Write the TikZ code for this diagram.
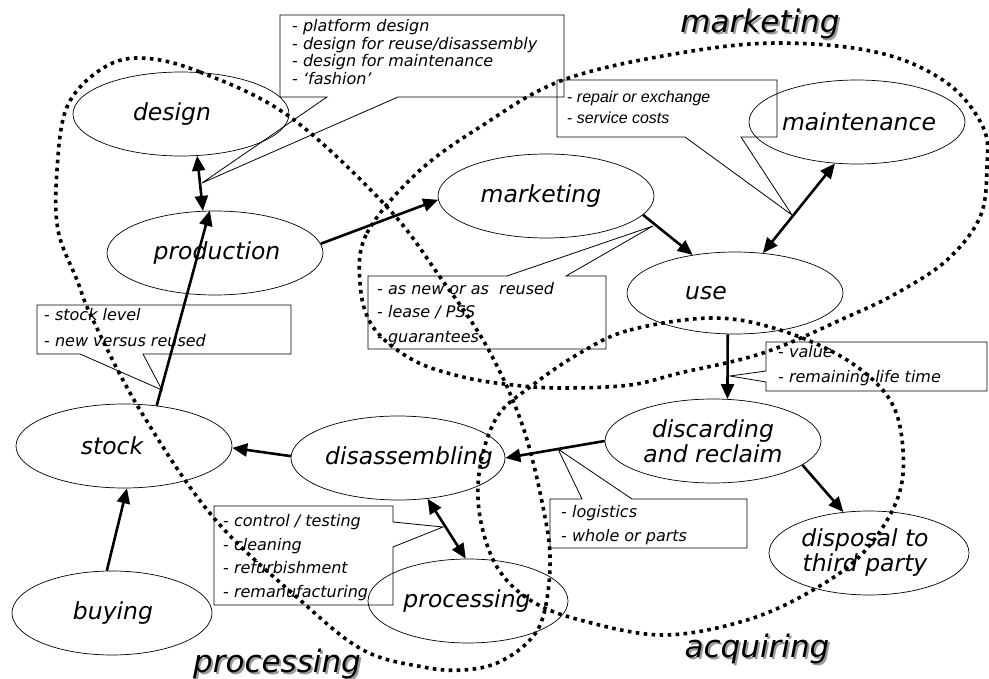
\documentclass[tikz,border=0pt]{standalone}
\usepackage{fontspec}
\setmainfont{DejaVu Sans}
\newfontfamily\arialf{Liberation Sans}
\usetikzlibrary{arrows.meta,shapes.geometric}
\newcommand{\dsh}[1]{\textup{-}\ \textit{#1}}
\begin{document}
\begin{tikzpicture}[x=1pt,y=-1pt,
  st/.style={draw, ellipse, line width=0.7pt, minimum width=216pt, minimum height=84pt, inner sep=0pt},
  lbl/.style={font=\fontsize{23.5}{25}\selectfont\itshape, align=center, inner sep=0pt},
  ct/.style={font=\fontsize{16}{18}\selectfont, inner sep=0pt, anchor=base west},
  ca/.style={font=\arialf\fontsize{16}{18}\selectfont, inner sep=0pt, anchor=base west},
  callout/.style={draw, line width=0.8pt, line join=miter},
  arr/.style={line width=2.6pt, -{Triangle[length=15pt,width=13pt]}},
  darr/.style={line width=2.6pt, {Triangle[length=15pt,width=13pt]}-{Triangle[length=15pt,width=13pt]}},
  dotloop/.style={line width=3.6pt, dash pattern=on 3.6pt off 4.4pt},
  big/.style={font=\fontsize{31}{33}\selectfont\itshape, anchor=base, inner sep=0pt}
]
\useasboundingbox (0,0) rectangle (989,679);

% process nodes
\node[st, label={[lbl,xshift=-9pt]center:design}] (design) at (181,114) {};
\node[st, label={[lbl,xshift=2pt]center:production}] (production) at (215,253) {};
\node[st, label={[lbl,xshift=-5pt]center:marketing}] (mkt) at (546,196) {};
\node[st, label={[lbl,xshift=2pt]center:maintenance}] (maint) at (857,122) {};
\node[st, minimum height=82pt, label={[lbl,xshift=-29pt]center:use}] (use) at (735,293) {};
\node[st, label={[lbl,xshift=0pt]center:{discarding\\and reclaim}}] (disc) at (713,441) {};
\node[st, minimum width=200pt, label={[lbl,xshift=-4pt]center:{disposal to\\third party}}] (disp) at (869,553) {};
\node[st, label={[lbl,xshift=-12pt]center:stock}] (stock) at (124,446) {};
\node[st, minimum width=214pt, label={[lbl,xshift=11pt]center:disassembling}] (disasm) at (398,458) {};
\node[st, minimum width=200pt, label={[lbl,xshift=1pt]center:buying}] (buying) at (112,613) {};
\node[st, minimum width=200pt, label={[lbl,xshift=-1pt]center:processing}] (proc) at (468,601) {};

% callout boxes
\coordinate (tipD) at (202,183);
\draw[callout] (280,15) -- (564,15) -- (564,97) -- (398,97) -- (tipD) -- (327,97) -- (280,97) -- cycle;
\node[ct] (d1) at (292,32) {\dsh{platform design}};
\node[ct] (d2) at (292,49.5) {\dsh{design for reuse/disassembly}};
\node[ct] (d3) at (292,67) {\dsh{design for maintenance}};
\node[ct] (d4) at (292,84.5) {\dsh{`fashion'}};

\coordinate (tipR) at (792,215);
\draw[callout] (557,80) -- (777,80) -- (777,137) -- (741,137) -- (tipR) -- (685,137) -- (557,137) -- cycle;
\node[ca] (r1) at (567,103) {\dsh{repair or exchange}};
\node[ca] (r2) at (567,124) {\dsh{service costs}};

\coordinate (tipM) at (653,226);
\draw[callout] (368,276) -- (507,276) -- (tipM) -- (566,276) -- (606,276) -- (606,349) -- (368,349) -- cycle;
\node[ct] (m1) at (377,295) {\dsh{as new or as\ \ reused}};
\node[ct] (m2) at (377,318) {\dsh{lease / PSS}};
\node[ct] (m3) at (377,342) {\dsh{guarantees}};

\coordinate (tipS) at (162,390);
\draw[callout] (37,305) -- (291,305) -- (291,354) -- (143,354) -- (tipS) -- (80,354) -- (37,354) -- cycle;
\node[ct] (s1) at (44,321) {\dsh{stock level}};
\node[ct] (s2) at (44,347) {\dsh{new versus reused}};

\coordinate (tipV) at (730,376);
\draw[callout] (766,342) -- (987,342) -- (987,391) -- (766,391) -- (766,382) -- (tipV) -- (766,371) -- cycle;
\node[ct] (v1) at (778,358) {\dsh{value}};
\node[ct] (v2) at (778,382) {\dsh{remaining life time}};

\coordinate (tipL) at (558,449);
\draw[callout] (550,499) -- (582,499) -- (tipL) -- (632,499) -- (747,499) -- (747,548) -- (550,548) -- cycle;
\node[ct] (l1) at (561,517) {\dsh{logistics}};
\node[ct] (l2) at (561,541) {\dsh{whole or parts}};

\coordinate (tipP) at (443,527);
\draw[callout] (214,506) -- (393,506) -- (393,522) -- (tipP) -- (393,547) -- (393,605) -- (214,605) -- cycle;
\node[ct] (p1) at (223,526) {\dsh{control / testing}};
\node[ct] (p2) at (223,550) {\dsh{cleaning}};
\node[ct] (p3) at (223,573) {\dsh{refurbishment}};
\node[ct] (p4) at (223,597) {\dsh{remanufacturing}};

% arrows
\draw[darr] (design.-69) -- (production.106);
\draw[arr] (production.5) -- (mkt.182);
\draw[arr] (mkt.-11) -- (use.138);
\draw[darr] (use.55) -- (maint.242);
\draw[arr] (use.260) -- (disc.71);
\draw[arr] (disc.180) -- (disasm.0);
\draw[arr] (disc.-15) -- (disp.122);
\draw[arr] (disasm.179) -- (stock.-1);
\draw[arr] (stock.51) -- (production.97);
\draw[arr] (buying.97) -- (stock.-86);
\draw[darr] (disasm.-54) -- (proc.93);

% dotted region loops
\draw[dotloop] plot[smooth cycle, tension=0.6] coordinates {
 (140,58) (200,72) (290,117) (387,207) (440,277) (487,347) (523,427) (545,517)
 (550,567) (543,617) (527,643) (497,663) (463,670) (423,667) (363,650) (300,600)
 (213,517) (140,410) (93,320) (77,280) (58,230) (57,170) (67,107) (100,70)};
\draw[dotloop] plot[smooth cycle, tension=0.6] coordinates {
 (360,283) (367,233) (417,173) (480,127) (563,80) (680,53) (780,43) (880,53)
 (947,83) (983,127) (987,167) (980,217) (947,260) (897,293) (847,317) (763,353)
 (680,373) (630,385) (563,388) (513,385) (463,377) (413,360) (373,327)};
\draw[dotloop] plot[smooth cycle, tension=0.6] coordinates {
 (580,353) (630,330) (713,318) (780,330) (847,360) (890,400) (903,450) (897,500)
 (863,553) (813,590) (747,620) (663,635) (580,620) (530,600) (497,567) (480,517)
 (480,467) (497,417) (530,387)};

% region titles
\node[big, text=black!40] (tmkts) at (762,35) {marketing};
\node[big] (tmkt) at (760,33) {marketing};
\node[big, text=black!40] (tprocs) at (279,674) {processing};
\node[big] (tproc) at (277,672) {processing};
\node[big, text=black!40] (tacqs) at (759,659) {acquiring};
\node[big] (tacq) at (757,657) {acquiring};
\end{tikzpicture}
\end{document}
